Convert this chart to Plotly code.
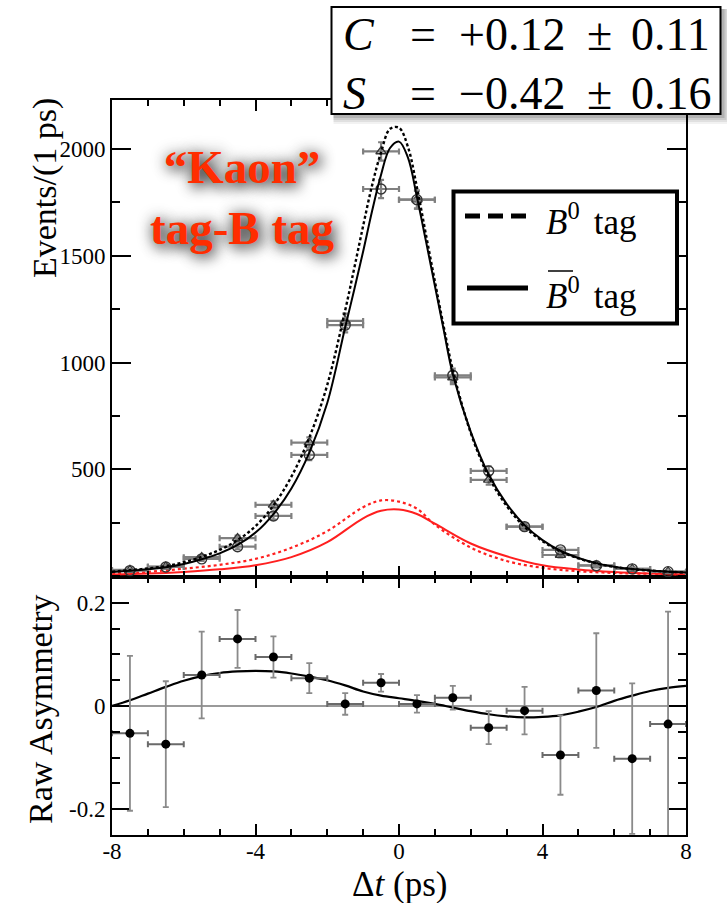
import plotly.graph_objects as go

# ---------------- data ----------------
# Delta-t bins (ps): centres and half widths
dt_bins = [-7.5, -6.5, -5.5, -4.5, -3.5, -2.5, -1.5, -0.5,
           0.5, 1.5, 2.5, 3.5, 4.5, 5.5, 6.5, 7.5]
dt_half = [0.5] * 16

# events per bin, B0-tagged (triangles) and B0bar-tagged (circles)
events_b0 = [28, 44, 88, 177, 333, 625, 1195, 1989, 1763, 930, 450, 231, 98, 50, 33, 20]
events_b0bar = [25, 42, 80, 137, 281, 567, 1175, 1813, 1763, 940, 492, 231, 122, 48, 33, 20]
events_err = [5, 7, 9, 12, 17, 24, 34, 43, 42, 31, 22, 15, 11, 7, 6, 5]

# fitted signal+background projections
fit_dt = [-8, -7.5, -7, -6.5, -6, -5.5, -5, -4.5, -4, -3.5, -3, -2.5, -2, -1.5,
          -1.25, -1, -0.75, -0.5, -0.25, 0, 0.25, 0.5, 0.75, 1, 1.25, 1.5,
          2, 2.5, 3, 3.5, 4, 4.5, 5, 5.5, 6, 6.5, 7, 7.5, 8]
fit_b0 = [20, 27, 35, 46, 64, 89, 122, 168, 233, 330, 465, 648, 895, 1245,
          1440, 1640, 1830, 1985, 2095, 2100, 2010, 1820, 1600, 1380, 1165, 965,
          670, 465, 328, 230, 163, 115, 82, 59, 42, 32, 25, 20, 16]
fit_b0bar = [18, 24, 31, 41, 56, 78, 106, 145, 203, 290, 410, 578, 810, 1165,
             1340, 1520, 1710, 1880, 2005, 2035, 1960, 1775, 1570, 1360, 1150, 945,
             675, 475, 338, 238, 168, 118, 84, 60, 43, 32, 25, 20, 16]

# fitted background components
bkg_dt = [-8, -7, -6, -5, -4, -3, -2, -1, -0.5, 0, 0.5, 1, 2, 3, 4, 5, 6, 7, 8]
bkg_b0 = [11, 19, 34, 52, 80, 132, 210, 322, 354, 348, 315, 240, 133, 70, 38, 22, 14, 10, 7]
bkg_b0bar = [7, 11, 19, 31, 50, 88, 158, 270, 305, 311, 290, 245, 152, 92, 50, 30, 18, 11, 7]

# raw asymmetry per bin
asym = [-0.053, -0.074, 0.060, 0.130, 0.095, 0.054, 0.004, 0.045,
        0.004, 0.016, -0.042, -0.009, -0.095, 0.030, -0.102, -0.035]
asym_err = [0.150, 0.122, 0.084, 0.056, 0.040, 0.029, 0.021, 0.017,
            0.017, 0.023, 0.032, 0.046, 0.077, 0.111, 0.146, 0.218]

# fitted asymmetry curve
asym_dt = [-8, -7.5, -7, -6.5, -6, -5.5, -5, -4.5, -4, -3.5, -3, -2.5, -2, -1.5, -1, -0.5,
           0, 0.5, 1, 1.5, 2, 2.5, 3, 3.5, 4, 4.5, 5, 5.5, 6, 6.5, 7, 7.5, 8]
asym_fit = [0.0, 0.011, 0.024, 0.037, 0.049, 0.058, 0.064, 0.067, 0.068, 0.067, 0.063,
            0.057, 0.050, 0.040, 0.028, 0.020, 0.015, 0.010, 0.004, -0.003, -0.010,
            -0.016, -0.020, -0.022, -0.021, -0.018, -0.011, -0.002, 0.010, 0.020,
            0.029, 0.035, 0.039]

x_tickvals = [-8, -4, 0, 4, 8]
x_ticktext = ["-8", "-4", "0", "4", "8"]
ev_tickvals = [500, 1000, 1500, 2000]
as_tickvals = [-0.2, 0, 0.2]
as_ticktext = ["-0.2", "0", "0.2"]

# ---------------- geometry helpers ----------------
W, H = 727, 903
L, R, T, B = 112, 686, 100, 835
SPLIT = 577  # boundary between the two panels (pixels)


def px(x):
    return (x - L) / (R - L)


def py(y):
    return (B - y) / (B - T)


split_frac = py(SPLIT)
SERIF = "Times New Roman, Liberation Serif, DejaVu Serif, serif"

fig = go.Figure()

# background components (red)
fig.add_trace(go.Scatter(x=bkg_dt, y=bkg_b0, mode="lines", xaxis="x2", yaxis="y2",
                         line=dict(color="#ff1f1f", width=2.2, dash="3px,3px", shape="spline")))
fig.add_trace(go.Scatter(x=bkg_dt, y=bkg_b0bar, mode="lines", xaxis="x2", yaxis="y2",
                         line=dict(color="#ff1f1f", width=2, shape="spline")))

# data points
err_style = dict(type="data", color="#808080", thickness=2.2, width=3)
fig.add_trace(go.Scatter(x=dt_bins, y=events_b0, mode="markers", xaxis="x2", yaxis="y2",
                         error_x=dict(array=dt_half, **err_style),
                         error_y=dict(array=events_err, **err_style),
                         marker=dict(symbol="triangle-up-open", size=9, color="#333333",
                                     line=dict(width=1.4))))
fig.add_trace(go.Scatter(x=dt_bins, y=events_b0bar, mode="markers", xaxis="x2", yaxis="y2",
                         error_x=dict(array=dt_half, **err_style),
                         error_y=dict(array=events_err, **err_style),
                         marker=dict(symbol="circle-open", size=10, color="#333333",
                                     line=dict(width=1.4))))

# total fit curves (black)
fig.add_trace(go.Scatter(x=fit_dt, y=fit_b0, mode="lines", xaxis="x2", yaxis="y2",
                         line=dict(color="black", width=2.4, dash="3px,2.5px", shape="spline")))
fig.add_trace(go.Scatter(x=fit_dt, y=fit_b0bar, mode="lines", xaxis="x2", yaxis="y2",
                         line=dict(color="black", width=2, shape="spline")))

# asymmetry panel
fig.add_trace(go.Scatter(x=asym_dt, y=asym_fit, mode="lines", xaxis="x", yaxis="y",
                         line=dict(color="black", width=2.2, shape="spline")))
fig.add_trace(go.Scatter(x=dt_bins, y=asym, mode="markers", xaxis="x", yaxis="y",
                         error_x=dict(type="data", array=dt_half, color="#6a6a6a",
                                      thickness=2, width=3),
                         error_y=dict(type="data", array=asym_err, color="#8a8a8a",
                                      thickness=1.8, width=3),
                         marker=dict(symbol="circle", size=9, color="black")))

tickfont = dict(family=SERIF, size=23, color="black")
axis_common = dict(showline=True, linecolor="black", linewidth=2, ticks="inside",
                   tickcolor="black", tickwidth=2, mirror="ticks", showgrid=False,
                   tickfont=tickfont)

fig.update_layout(
    width=W, height=H,
    margin=dict(l=L, r=W - R, t=T, b=H - B),
    paper_bgcolor="white", plot_bgcolor="white",
    showlegend=False,
    font=dict(family=SERIF, color="black"),
    xaxis=dict(domain=[0, 1], anchor="y", range=[-8, 8], tickmode="array",
               tickvals=x_tickvals, ticktext=x_ticktext, ticklen=11,
               ticklabelstandoff=-6, zeroline=False,
               minor=dict(ticks="inside", dtick=1, tick0=0, ticklen=6, tickwidth=1.5,
                          tickcolor="black"),
               **axis_common),
    xaxis2=dict(domain=[0, 1], anchor="y2", range=[-8, 8], matches="x",
                showticklabels=False, tickmode="array", tickvals=x_tickvals,
                ticklen=11, zeroline=False,
                minor=dict(ticks="inside", dtick=1, tick0=0, ticklen=6, tickwidth=1.5,
                           tickcolor="black"),
                **axis_common),
    yaxis=dict(domain=[0, split_frac], anchor="x", range=[-0.25, 0.25], tickmode="array",
               tickvals=as_tickvals, ticktext=as_ticktext, ticklen=17,
               zeroline=True, zerolinecolor="#9a9a9a", zerolinewidth=1.8,
               minor=dict(ticks="inside", dtick=0.05, tick0=0, ticklen=8, tickwidth=1.5,
                          tickcolor="black"),
               **axis_common),
    yaxis2=dict(domain=[split_frac, 1], anchor="x2", range=[-5, 2230], tickmode="array",
                tickvals=ev_tickvals, ticklen=19, zeroline=False,
                minor=dict(ticks="inside", dtick=250, tick0=0, ticklen=8, tickwidth=1.5,
                           tickcolor="black"),
                **axis_common),
)

shapes = []
annotations = []

# soft shadow + box for the fit-result panel
bx0, by0, bx1, by1 = 331.5, 7, 720.5, 114
for k, op in [(10, 0.05), (8, 0.07), (6, 0.09), (4, 0.12)]:
    shapes.append(dict(type="rect", xref="paper", yref="paper", layer="above",
                       x0=px(bx0 + 2), x1=px(bx1 + k), y0=py(by0 + 2), y1=py(by1 + k),
                       fillcolor=f"rgba(0,0,0,{op})", line=dict(width=0)))
shapes.append(dict(type="rect", xref="paper", yref="paper", layer="above",
                   x0=px(bx0), x1=px(bx1), y0=py(by0), y1=py(by1),
                   fillcolor="white", line=dict(color="black", width=2)))

fit_font = dict(family=SERIF, size=46, color="black")
for yc, name, val, err in [(35, "C", "+0.12", "0.11"), (94, "S", "\u22120.42", "0.16")]:
    annotations += [
        dict(x=px(341), y=py(yc), text=f"<i>{name}</i>", xanchor="left"),
        dict(x=px(423), y=py(yc), text="=", xanchor="center"),
        dict(x=px(457), y=py(yc), text=val, xanchor="left"),
        dict(x=px(599), y=py(yc), text="\u00b1", xanchor="center"),
        dict(x=px(629), y=py(yc), text=err, xanchor="left"),
    ]
for a in annotations:
    a.update(xref="paper", yref="paper", yanchor="middle", showarrow=False, font=fit_font)

# legend box
shapes.append(dict(type="rect", xref="paper", yref="paper", layer="above",
                   x0=px(453.5), x1=px(677), y0=py(191.5), y1=py(323.5),
                   fillcolor="white", line=dict(color="black", width=4)))
shapes.append(dict(type="line", xref="paper", yref="paper", layer="above",
                   x0=px(465), x1=px(528), y0=py(216), y1=py(216),
                   line=dict(color="black", width=5, dash="15px,8px")))
shapes.append(dict(type="line", xref="paper", yref="paper", layer="above",
                   x0=px(467), x1=px(528), y0=py(288), y1=py(288),
                   line=dict(color="black", width=5)))
# overline of the anti-B symbol
shapes.append(dict(type="line", xref="paper", yref="paper", layer="above",
                   x0=px(548), x1=px(573), y0=py(271), y1=py(271),
                   line=dict(color="black", width=1.5)))
leg_font = dict(family=SERIF, size=35, color="black")
annotations.append(dict(x=px(544), y=py(220), xref="paper", yref="paper", xanchor="left",
                        yanchor="middle", showarrow=False, font=leg_font,
                        text="<i>B</i><sup>0</sup>\u2009\u2009tag"))
annotations.append(dict(x=px(544), y=py(293), xref="paper", yref="paper", xanchor="left",
                        yanchor="middle", showarrow=False, font=leg_font,
                        text="<i>B</i><sup>0</sup>\u2009\u2009tag"))

# tag-category label
annotations.append(dict(x=px(242), y=py(197), xref="paper", yref="paper",
                        xanchor="center", yanchor="middle", showarrow=False,
                        text="<b>\u201cKaon\u201d</b><br><b>tag-B tag</b>",
                        font=dict(family=SERIF, size=47, color="#ff2d00",
                                  shadow="3px 4px 14px rgba(0,0,0,0.8), "
                                         "0px 0px 16px rgba(0,0,0,0.45)")))

# axis titles
title_font = dict(family=SERIF, size=34, color="black")
annotations.append(dict(x=px(45), y=py(188), xref="paper", yref="paper", textangle=-90,
                        xanchor="center", yanchor="middle", showarrow=False,
                        font=title_font, text="Events/(1 ps)"))
annotations.append(dict(x=px(40), y=py(710), xref="paper", yref="paper", textangle=-90,
                        xanchor="center", yanchor="middle", showarrow=False,
                        font=title_font, text="Raw Asymmetry"))
annotations.append(dict(x=px(399), y=py(884), xref="paper", yref="paper",
                        xanchor="center", yanchor="middle", showarrow=False,
                        font=dict(family=SERIF, size=35, color="black"),
                        text="\u0394<i>t</i> (ps)"))

fig.update_layout(shapes=shapes, annotations=annotations)
fig.write_html("out.html")
